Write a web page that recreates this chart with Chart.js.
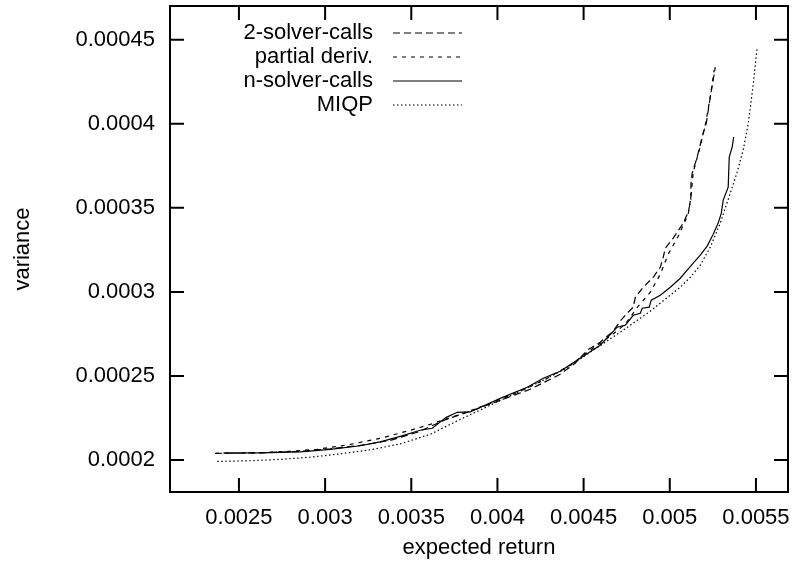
<!DOCTYPE html>
<html>
<head>
<meta charset="utf-8">
<script src="https://cdn.jsdelivr.net/npm/chart.js@4"></script>
<style>
  html, body { margin: 0; padding: 0; background: #fff; }
  #wrap { width: 796px; height: 570px; }
</style>
</head>
<body>
<div id="wrap"><canvas id="frontier" width="796" height="570"></canvas></div>
<script>
// expected return (x) and variance (y)
const twoSolverX = [0.002362, 0.002624, 0.002856, 0.00303, 0.003204, 0.003378, 0.003535, 0.003703, 0.003842,
  0.004016, 0.00419, 0.004364, 0.004451, 0.004521, 0.004596, 0.004672, 0.004712, 0.004753, 0.004788, 0.0048,
  0.004846, 0.004904, 0.004945, 0.004962, 0.004974, 0.00502, 0.005078, 0.005107, 0.005122, 0.005123, 0.00513,
  0.005159, 0.005194, 0.005212, 0.005235, 0.005252, 0.005264];
const twoSolverY = [0.000204, 0.0002043, 0.0002052, 0.0002067, 0.0002087, 0.0002117, 0.0002165, 0.0002242, 0.000229,
  0.0002355, 0.0002421, 0.000251, 0.0002576, 0.0002653, 0.0002701, 0.0002766, 0.0002826, 0.0002873, 0.0002909, 0.0002968,
  0.0003028, 0.0003087, 0.0003147, 0.0003206, 0.000326, 0.000332, 0.0003409, 0.0003474, 0.0003546, 0.0003647, 0.0003706,
  0.0003802, 0.0003945, 0.0004004, 0.0004159, 0.000426, 0.0004337];

const partialX = [0.002362, 0.002624, 0.002798, 0.002954, 0.003146, 0.00332, 0.003494, 0.00361, 0.003784, 0.003958,
  0.004132, 0.004277, 0.004422, 0.004538, 0.004654, 0.004742, 0.004817, 0.004887, 0.004945, 0.004991, 0.005049,
  0.005107, 0.005124, 0.005136, 0.005171, 0.005206, 0.005235, 0.005258];
const partialY = [0.000204, 0.0002044, 0.0002052, 0.0002064, 0.0002093, 0.0002129, 0.0002177, 0.0002212, 0.0002272, 0.0002337,
  0.0002409, 0.000248, 0.0002564, 0.0002653, 0.0002736, 0.0002808, 0.0002915, 0.0002998, 0.0003105, 0.0003224, 0.0003331,
  0.0003462, 0.0003576, 0.0003712, 0.0003843, 0.0003992, 0.0004159, 0.000432];

const nSolverX = [0.002409, 0.002624, 0.002856, 0.00303, 0.003204, 0.00332, 0.003436, 0.003552, 0.003622, 0.003703,
  0.003767, 0.003842, 0.004016, 0.004173, 0.004266, 0.004364, 0.00448, 0.004596, 0.004695, 0.004742, 0.004788,
  0.004829, 0.00484, 0.004881, 0.004892, 0.004945, 0.005003, 0.005061, 0.005101, 0.005136, 0.005177, 0.005217,
  0.005252, 0.005281, 0.005299, 0.00531, 0.005339, 0.005345, 0.005362, 0.005371];
const nSolverY = [0.0002042, 0.0002043, 0.0002049, 0.0002064, 0.0002085, 0.0002108, 0.0002141, 0.0002177, 0.0002189, 0.0002254,
  0.0002284, 0.0002286, 0.0002367, 0.0002433, 0.0002486, 0.0002528, 0.0002605, 0.0002683, 0.000279, 0.0002802, 0.0002861,
  0.0002873, 0.0002903, 0.0002909, 0.0002951, 0.000298, 0.0003028, 0.0003081, 0.0003129, 0.0003171, 0.0003218, 0.0003272,
  0.0003343, 0.0003409, 0.0003468, 0.0003546, 0.0003623, 0.0003802, 0.0003861, 0.0003921];

const miqpX = [0.002374, 0.002566, 0.00274, 0.002914, 0.003088, 0.003262, 0.003436, 0.00361, 0.003761, 0.003958,
  0.004132, 0.004266, 0.004399, 0.004556, 0.004712, 0.004887, 0.005061, 0.005119, 0.005177, 0.005235, 0.005293,
  0.005351, 0.005391, 0.005426, 0.005455, 0.005484, 0.005507];
const miqpY = [0.0001992, 0.0001996, 0.0002004, 0.0002017, 0.0002037, 0.0002061, 0.0002096, 0.0002153, 0.000223, 0.0002326,
  0.0002409, 0.0002474, 0.0002546, 0.0002653, 0.000276, 0.0002885, 0.0003028, 0.0003087, 0.0003159, 0.0003266, 0.0003409,
  0.0003587, 0.0003712, 0.0003843, 0.0003998, 0.000423, 0.0004456];

const seriesNames = ['2-solver-calls', 'partial deriv.', 'n-solver-calls', 'MIQP'];

const xTicks = [0.0025, 0.003, 0.0035, 0.004, 0.0045, 0.005, 0.0055];
const xTickLabels = ['0.0025', '0.003', '0.0035', '0.004', '0.0045', '0.005', '0.0055'];
const yTicks = [0.0002, 0.00025, 0.0003, 0.00035, 0.0004, 0.00045];
const yTickLabels = ['0.0002', '0.00025', '0.0003', '0.00035', '0.0004', '0.00045'];

const FONT = "'Liberation Sans', Arial, Helvetica, sans-serif";
const FSIZE = 22;

function pts(xs, ys) {
  return xs.map((v, i) => ({ x: v, y: ys[i] }));
}

function line(label, data, dash) {
  return {
    label: label,
    data: data,
    showLine: true,
    borderColor: '#000',
    borderWidth: 1.2,
    borderDash: dash,
    pointRadius: 0,
    tension: 0,
    fill: false
  };
}

// gnuplot style: full frame, ticks pointing inward, key in the top left
const frameAndKey = {
  id: 'frameAndKey',
  afterDraw(chart) {
    const { ctx, chartArea: a, scales: { x, y } } = chart;
    const tl = 14;
    ctx.save();
    ctx.strokeStyle = '#000';
    ctx.lineWidth = 2;
    ctx.setLineDash([]);
    ctx.strokeRect(a.left, a.top, a.right - a.left, a.bottom - a.top);
    ctx.beginPath();
    xTicks.forEach(v => {
      const px = x.getPixelForValue(v);
      ctx.moveTo(px, a.bottom); ctx.lineTo(px, a.bottom - tl);
      ctx.moveTo(px, a.top); ctx.lineTo(px, a.top + tl);
    });
    yTicks.forEach(v => {
      const py = y.getPixelForValue(v);
      ctx.moveTo(a.left, py); ctx.lineTo(a.left + tl, py);
      ctx.moveTo(a.right, py); ctx.lineTo(a.right - tl, py);
    });
    ctx.stroke();

    // key
    ctx.font = FSIZE + 'px ' + FONT;
    ctx.fillStyle = '#000';
    ctx.textAlign = 'right';
    ctx.textBaseline = 'middle';
    ctx.lineWidth = 1.2;
    chart.data.datasets.forEach((ds, i) => {
      const ry = a.top + 27 + i * 24;
      ctx.fillText(ds.label, a.left + 203, ry);
      ctx.setLineDash(ds.borderDash);
      ctx.beginPath();
      ctx.moveTo(a.left + 223, ry);
      ctx.lineTo(a.left + 292, ry);
      ctx.stroke();
    });
    ctx.restore();
  }
};

const ctx = document.getElementById('frontier').getContext('2d');
const chart = new Chart(ctx, {
  type: 'scatter',
  data: {
    datasets: [
      line(seriesNames[0], pts(twoSolverX, twoSolverY), [7, 4]),
      line(seriesNames[1], pts(partialX, partialY), [4, 5]),
      line(seriesNames[2], pts(nSolverX, nSolverY), []),
      line(seriesNames[3], pts(miqpX, miqpY), [1.5, 2.5])
    ]
  },
  options: {
    responsive: false,
    animation: false,
    devicePixelRatio: 1,
    layout: { padding: { top: 6, right: 8, left: 0, bottom: 0 } },
    scales: {
      x: {
        type: 'linear',
        min: 0.0021,
        max: 0.005686,
        afterFit: s => { s.height = 78; s.paddingLeft = 0; s.paddingRight = 0; },
        afterBuildTicks: s => { s.ticks = xTicks.map(v => ({ value: v })); },
        border: { display: false },
        grid: { display: false, drawTicks: false },
        ticks: {
          color: '#000',
          padding: 13,
          maxRotation: 0,
          autoSkip: false,
          font: { family: FONT, size: FSIZE },
          callback: (v, i) => xTickLabels[i]
        },
        title: {
          display: true,
          text: 'expected return',
          color: '#000',
          font: { family: FONT, size: FSIZE },
          padding: { top: 0, bottom: 9 }
        }
      },
      y: {
        type: 'linear',
        min: 0.000181,
        max: 0.00047,
        afterFit: s => { s.width = 170; s.paddingTop = 0; s.paddingBottom = 0; },
        afterBuildTicks: s => { s.ticks = yTicks.map(v => ({ value: v })); },
        border: { display: false },
        grid: { display: false, drawTicks: false },
        ticks: {
          color: '#000',
          padding: 15,
          autoSkip: false,
          font: { family: FONT, size: FSIZE },
          callback: (v, i) => yTickLabels[i]
        },
        title: {
          display: true,
          text: 'variance',
          color: '#000',
          font: { family: FONT, size: FSIZE },
          padding: { top: 10, bottom: 0 }
        }
      }
    },
    plugins: {
      legend: { display: false },
      tooltip: { enabled: false }
    }
  },
  plugins: [frameAndKey]
});
</script>
</body>
</html>
